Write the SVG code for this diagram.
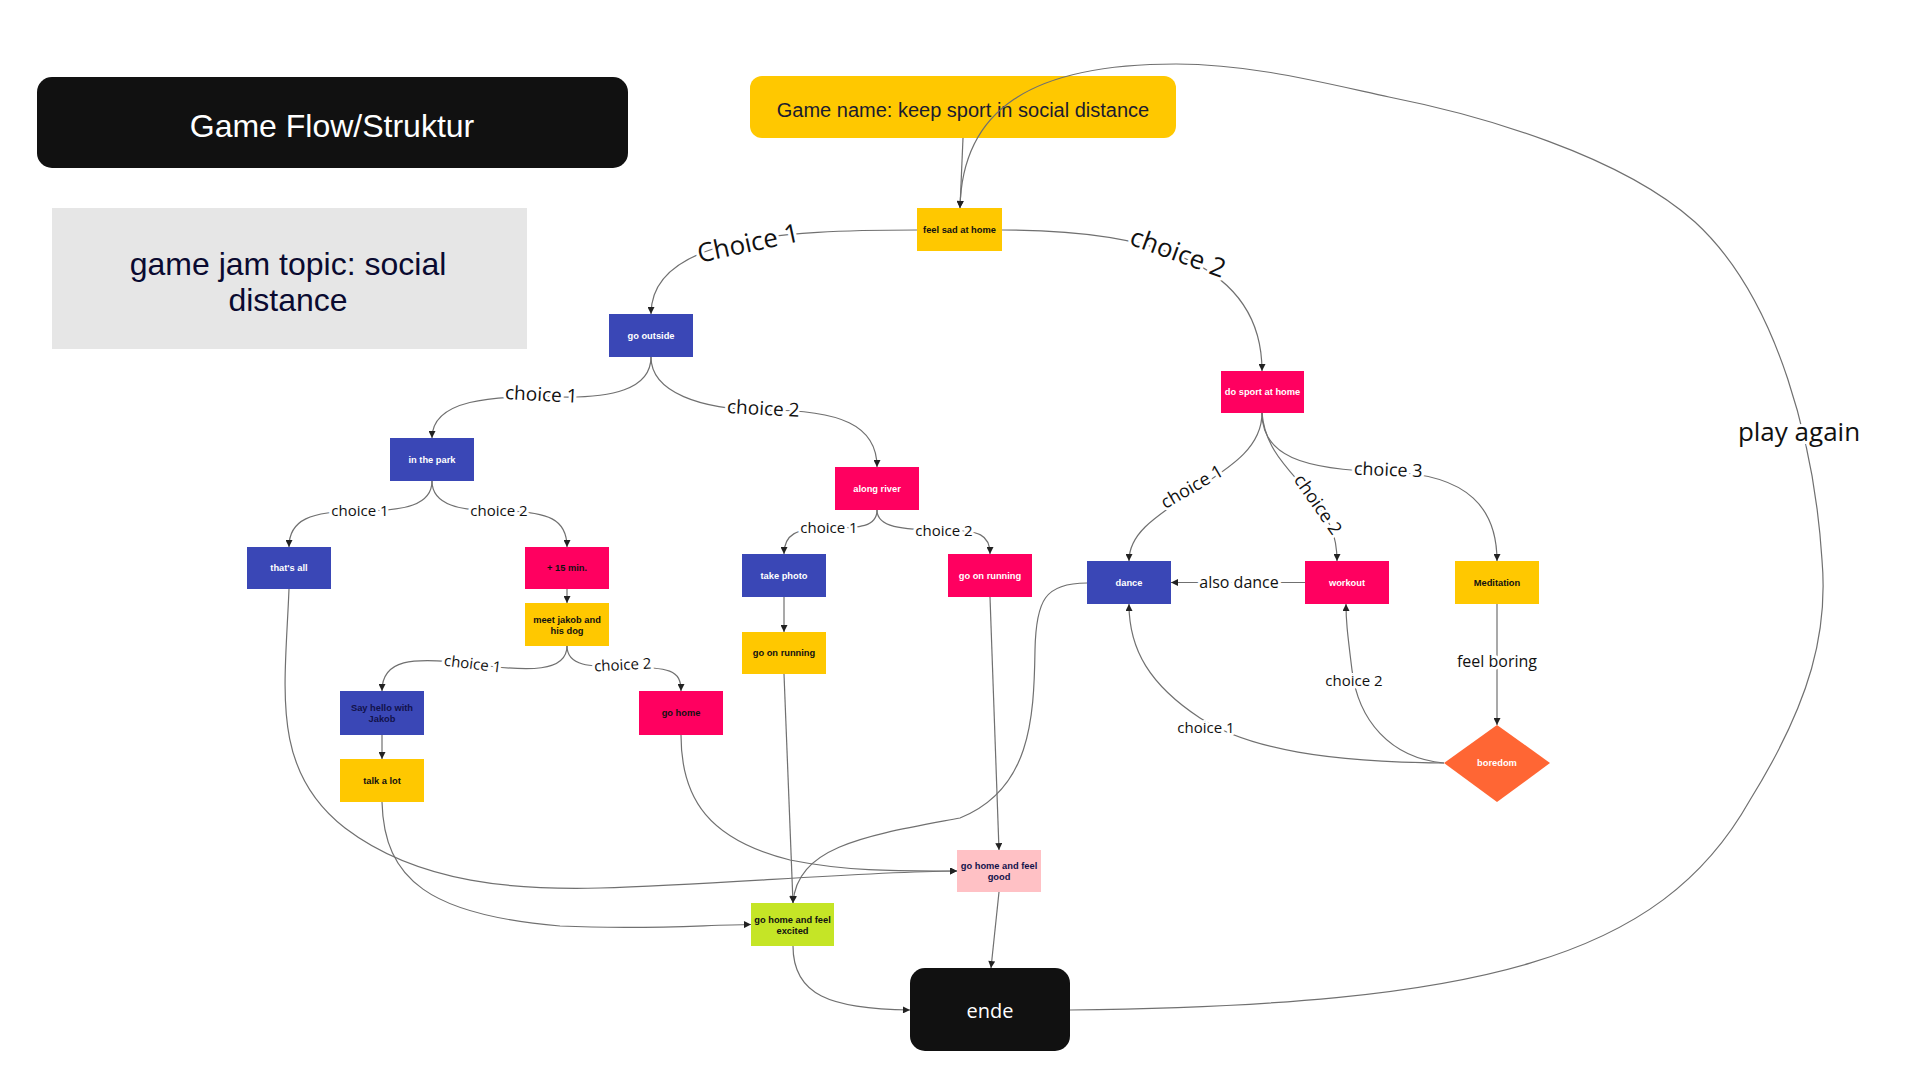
<svg xmlns="http://www.w3.org/2000/svg" width="1920" height="1079" viewBox="0 0 1920 1079">
<defs>
<marker id="a" viewBox="0 0 10 10" refX="10" refY="5" markerWidth="8" markerHeight="7" markerUnits="userSpaceOnUse" orient="auto"><path d="M0,0 L10,5 L0,10 z" fill="#222"/></marker>
<style>
.c{fill:none;stroke:#707070;stroke-width:1.2;marker-end:url(#a)}
.n{font-family:"Liberation Sans",Arial,sans-serif;font-size:9.3px;font-weight:bold;text-anchor:middle}
.w{fill:#fff}.d{fill:#111}.nv{fill:#12124a}
.blue{fill:#3a47b6}.pink{fill:#ff0060}.yel{fill:#ffc800}
.l{font-family:"Open Sans","DejaVu Sans",sans-serif;fill:#111;text-anchor:middle;stroke:#fff;stroke-width:6;paint-order:stroke;stroke-linejoin:round}
</style>
</defs>
<rect width="1920" height="1079" fill="#fff"/>
<g id="title"><rect x="37" y="77" width="591" height="91" rx="15" fill="#111"/><text x="332" y="137" font-family="'Liberation Sans',Arial,sans-serif" font-size="32" fill="#fff" text-anchor="middle">Game Flow/Struktur</text></g>
<g id="gamename"><rect x="750" y="76" width="426" height="62" rx="12" class="yel"/><text x="963" y="117" font-family="'Liberation Sans',Arial,sans-serif" font-size="20" fill="#1b1b2f" text-anchor="middle">Game name: keep sport in social distance</text></g>
<g id="topic"><rect x="52" y="208" width="475" height="141" fill="#e6e6e6"/><text font-family="'Liberation Sans',Arial,sans-serif" font-size="32" fill="#0a0a30" text-anchor="middle"><tspan x="288" y="275">game jam topic: social</tspan><tspan x="288" y="311">distance</tspan></text></g>
<g id="connectors">
<path class="c" d="M963,138 L960,208"/>
<path class="c" d="M917,230 C780,230 651,238 651,314"/>
<path class="c" d="M1002,230 C1150,230 1262,262 1262,371"/>
<path class="c" d="M651,357 C651,390 610,398 560,397 C490,395 432,400 432,438"/>
<path class="c" d="M651,357 C651,392 700,410 765,410 C840,410 877,425 877,467"/>
<path class="c" d="M432,481 C432,505 405,511 360,511 C310,511 289,520 289,547"/>
<path class="c" d="M432,481 C432,505 460,511 499,511 C550,511 567,520 567,547"/>
<path class="c" d="M567,589 L567,603"/>
<path class="c" d="M567,646 C567,672 530,672 472,664 C410,656 382,660 382,691"/>
<path class="c" d="M567,646 C567,666 590,667 623,667 C670,667 681,670 681,691"/>
<path class="c" d="M382,735 L382,759"/>
<path class="c" d="M877,510 C877,527 860,528 829,528 C795,528 784,535 784,554"/>
<path class="c" d="M877,510 C877,527 900,530 944,530 C980,530 990,535 990,554"/>
<path class="c" d="M784,597 L784,632"/>
<path class="c" d="M1262,413 C1262,450 1225,470 1195,490 C1150,520 1129,535 1129,561"/>
<path class="c" d="M1262,413 C1265,450 1290,470 1310,495 C1330,520 1337,535 1337,561"/>
<path class="c" d="M1262,413 C1262,455 1300,470 1388,472 C1470,474 1497,510 1497,561"/>
<path class="c" d="M1305,582.5 L1171,582.5"/>
<path class="c" d="M1497,604 L1497,725"/>
<path class="c" d="M1444,763 C1390,758 1358,720 1352,670 C1347,630 1346,620 1346,604"/>
<path class="c" d="M1444,763 C1330,762 1250,750 1200,718 C1150,685 1129,650 1129,604"/>
<path class="c" d="M1087,583 C1045,583 1036,600 1035,650 C1034,720 1030,790 960,818 C870,835 797,845 793,903"/>
<path class="c" d="M289,589 C285,690 270,770 345,828 C420,885 520,890 600,888 C720,885 850,872 957,871"/>
<path class="c" d="M681,735 C681,800 710,840 790,860 C850,872 900,871 957,871"/>
<path class="c" d="M784,674 L793,903"/>
<path class="c" d="M990,597 L999,850"/>
<path class="c" d="M382,802 C384,880 430,915 560,926 C650,930 700,925 751,924.5"/>
<path class="c" d="M793,946 C793,995 830,1009 910,1010"/>
<path class="c" d="M999,892 L991,968"/>
<path class="c" d="M1070,1010 C1480,1005 1660,960 1750,800 C1812,700 1828,630 1822,560 C1815,450 1780,300 1695,222 C1620,155 1480,115 1389,97 C1320,82 1250,64 1176,64 C1030,64 962,110 960,208"/>
<text class="l" font-size="26" transform="translate(750,252) rotate(-12)">Choice 1</text>
<text class="l" font-size="26" transform="translate(1175,261) rotate(20)">choice 2</text>
<text class="l" font-size="19" transform="translate(541,401) rotate(3)">choice 1</text>
<text class="l" font-size="19" transform="translate(763,415) rotate(3)">choice 2</text>
<text class="l" font-size="15" x="360" y="516">choice 1</text>
<text class="l" font-size="15" x="499" y="516">choice 2</text>
<text class="l" font-size="15" x="829" y="533">choice 1</text>
<text class="l" font-size="15" x="944" y="536">choice 2</text>
<text class="l" font-size="15" transform="translate(472,669) rotate(7)">choice 1</text>
<text class="l" font-size="15" transform="translate(623,670) rotate(-3)">choice 2</text>
<text class="l" font-size="18" transform="translate(1195,492) rotate(-30)">choice 1</text>
<text class="l" font-size="18" transform="translate(1313,508) rotate(55)">choice 2</text>
<text class="l" font-size="18" transform="translate(1388,476) rotate(2)">choice 3</text>
<text class="l" font-size="16" x="1239" y="588">also dance</text>
<text class="l" font-size="16" x="1497" y="667">feel boring</text>
<text class="l" font-size="15" x="1354" y="686">choice 2</text>
<text class="l" font-size="15" x="1206" y="733">choice 1</text>
<text class="l" font-size="26" x="1799" y="441">play again</text>
</g>
<g id="feelsad"><rect x="917" y="208" width="85" height="43" class="yel"/><text class="n d" x="959.5" y="233">feel sad at home</text></g>
<g id="gooutside"><rect x="609" y="314" width="84" height="43" class="blue"/><text class="n w" x="651" y="339">go outside</text></g>
<g id="park"><rect x="390" y="438" width="84" height="43" class="blue"/><text class="n w" x="432" y="463">in the park</text></g>
<g id="river"><rect x="835" y="467" width="84" height="43" class="pink"/><text class="n w" x="877" y="492">along river</text></g>
<g id="thatsall"><rect x="247" y="547" width="84" height="42" class="blue"/><text class="n w" x="289" y="571">that's all</text></g>
<g id="min15"><rect x="525" y="547" width="84" height="42" class="pink"/><text class="n d" x="567" y="571">+ 15 min.</text></g>
<g id="photo"><rect x="742" y="554" width="84" height="43" class="blue"/><text class="n w" x="784" y="579">take photo</text></g>
<g id="running2"><rect x="948" y="554" width="84" height="43" class="pink"/><text class="n w" x="990" y="579">go on running</text></g>
<g id="jakob"><rect x="525" y="603" width="84" height="43" class="yel"/><text class="n d"><tspan x="567" y="622.5">meet jakob and</tspan><tspan x="567" y="633.5">his dog</tspan></text></g>
<g id="running1"><rect x="742" y="632" width="84" height="42" class="yel"/><text class="n d" x="784" y="656">go on running</text></g>
<g id="sayhello"><rect x="340" y="691" width="84" height="44" class="blue"/><text class="n nv"><tspan x="382" y="711">Say hello with</tspan><tspan x="382" y="722">Jakob</tspan></text></g>
<g id="gohome"><rect x="639" y="691" width="84" height="44" class="pink"/><text class="n d" x="681" y="716">go home</text></g>
<g id="talk"><rect x="340" y="759" width="84" height="43" class="yel"/><text class="n d" x="382" y="784">talk a lot</text></g>
<g id="good"><rect x="957" y="850" width="84" height="42" fill="#ffc1c5"/><text class="n nv"><tspan x="999" y="869">go home and feel</tspan><tspan x="999" y="880">good</tspan></text></g>
<g id="excited"><rect x="751" y="903" width="83" height="43" fill="#c5e526"/><text class="n d"><tspan x="792.5" y="922.5">go home and feel</tspan><tspan x="792.5" y="933.5">excited</tspan></text></g>
<g id="ende"><rect x="910" y="968" width="160" height="83" rx="15" fill="#111"/><text x="990" y="1018" font-family="'Open Sans','DejaVu Sans',sans-serif" font-size="20" fill="#fff" text-anchor="middle">ende</text></g>
<g id="sporthome"><rect x="1221" y="371" width="83" height="42" class="pink"/><text class="n w" x="1262.5" y="395">do sport at home</text></g>
<g id="dance"><rect x="1087" y="561" width="84" height="43" class="blue"/><text class="n w" x="1129" y="586">dance</text></g>
<g id="workout"><rect x="1305" y="561" width="84" height="43" class="pink"/><text class="n w" x="1347" y="586">workout</text></g>
<g id="meditation"><rect x="1455" y="561" width="84" height="43" class="yel"/><text class="n d" x="1497" y="586">Meditation</text></g>
<g id="boredom"><polygon points="1444,763 1497,725 1550,763 1497,802" fill="#ff6634"/><text class="n w" x="1497" y="766">boredom</text></g>
</svg>
